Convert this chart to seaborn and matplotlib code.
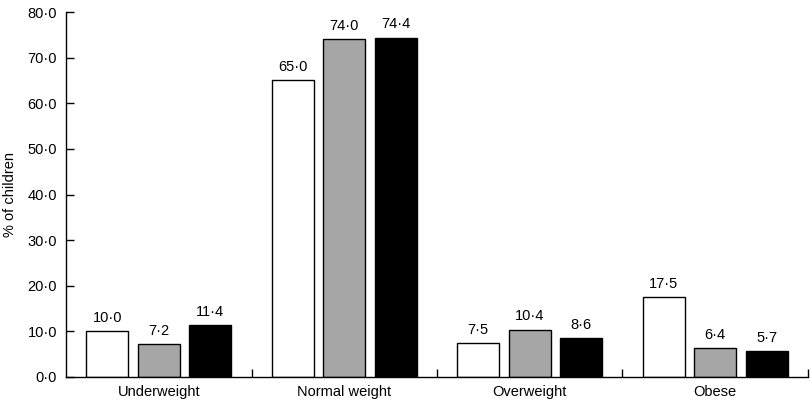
import pandas as pd
import matplotlib
matplotlib.use("Agg")
import matplotlib.pyplot as plt
import seaborn as sns
from matplotlib.ticker import FuncFormatter, FixedLocator

categories = ["Underweight", "Normal weight", "Overweight", "Obese"]
series_names = ["Group 1", "Group 2", "Group 3"]
group1 = [10.0, 65.0, 7.5, 17.5]
group2 = [7.2, 74.0, 10.4, 6.4]
group3 = [11.4, 74.4, 8.6, 5.7]
colors = ["#ffffff", "#a6a6a6", "#000000"]

sns.set_style("ticks")
plt.rcParams["font.family"] = ["Liberation Sans", "DejaVu Sans"]
plt.rcParams["text.color"] = "black"
plt.rcParams["axes.labelcolor"] = "black"
plt.rcParams["xtick.color"] = "black"
plt.rcParams["ytick.color"] = "black"

df = pd.DataFrame({
    "category": categories * 3,
    "series": [s for s in series_names for _ in categories],
    "value": group1 + group2 + group3,
})


def dot_fmt(v):
    return f"{v:.1f}".replace(".", "\u00b7")


fs = 10.5
fig = plt.figure(figsize=(8.1, 4.0), dpi=100)
ax = fig.add_axes([0.0815, 0.0575, 0.916, 0.9125])

sns.barplot(data=df, x="category", y="value", hue="series", order=categories,
            hue_order=series_names, palette=colors, edgecolor="black",
            linewidth=1, width=0.833, gap=0.187, legend=False, ax=ax)

for container in ax.containers:
    ax.bar_label(container, labels=[dot_fmt(v) for v in container.datavalues],
                 padding=4.5, fontsize=fs, color="black")

ax.set_ylim(0, 80)
ax.set_xlim(-0.5, 3.5)
ax.yaxis.set_major_formatter(FuncFormatter(lambda v, p: dot_fmt(v)))
ax.set_yticks([0, 10, 20, 30, 40, 50, 60, 70, 80])
ax.set_ylabel("% of children", fontsize=fs)
ax.yaxis.set_label_coords(-0.066, 0.5)
ax.set_xlabel("")
ax.xaxis.set_minor_locator(FixedLocator([0.5, 1.5, 2.5, 3.5]))
ax.tick_params(axis="x", which="major", length=0, labelsize=fs, pad=5.5)
ax.tick_params(axis="x", which="minor", direction="in", length=6, width=1)
ax.tick_params(axis="y", direction="in", length=6, width=1, labelsize=fs, pad=6.5)
sns.despine(ax=ax)
for sp in ["left", "bottom"]:
    ax.spines[sp].set_linewidth(1)
    ax.spines[sp].set_color("black")

fig.savefig("out.png", dpi=100)
